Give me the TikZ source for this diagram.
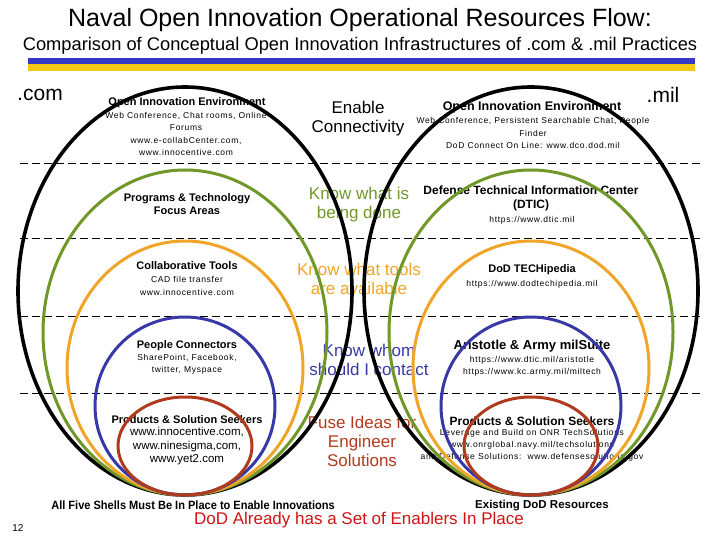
\documentclass[tikz,border=0pt]{standalone}
\usepackage{fontspec}
\setmainfont{Liberation Sans}
\newfontfamily\spacedfont[LetterSpace=8]{Liberation Sans}
\definecolor{shgreen}{RGB}{112,152,40}
\definecolor{shorange}{RGB}{240,165,40}
\definecolor{shblue}{RGB}{56,56,168}
\definecolor{shred}{RGB}{176,58,30}
\definecolor{alertred}{RGB}{204,20,20}
\definecolor{barblue}{RGB}{56,56,200}
\definecolor{baryellow}{RGB}{245,200,20}
\begin{document}
\begin{tikzpicture}[x=1pt,y=-1pt,
  txt/.style={inner sep=0pt, align=center},
  small/.style={txt, font=\spacedfont\fontsize{8.5}{12.2}\selectfont},
  head/.style={txt, font=\bfseries\fontsize{11}{13}\selectfont},
  mid/.style={txt, font=\fontsize{17}{19}\selectfont},
  sep/.style={line width=0.9pt, dash pattern=on 8pt off 4pt},
  shell/.style={line width=3pt},
  outer/.style={line width=3.6pt, black}]
\useasboundingbox (0,0) rectangle (720,540);
% title
\node[txt, font=\fontsize{25}{28}\selectfont] (title) at (360,20) {Naval Open Innovation Operational Resources Flow:};
\node[txt, font=\fontsize{18.3}{20}\selectfont] (subtitle) at (360,46) {Comparison of Conceptual Open Innovation Infrastructures of .com \& .mil Practices};
\fill[barblue] (28,58) rectangle (695,64);
\fill[baryellow] (28,64) rectangle (695,71);
\node[txt, font=\fontsize{21}{24}\selectfont] (com) at (40,95) {.com};
\node[txt, font=\fontsize{21}{24}\selectfont] (mil) at (663,95) {.mil};
% separators
\foreach \yy in {163,238,316,393} \draw[sep] (20,\yy) -- (700,\yy);
% left column
\node[head] (lOIE) at (187,103) {Open Innovation Environment};
\node[small] (lOIEtxt) at (186,134) {Web Conference, Chat rooms, Online\\Forums\\www.e-collabCenter.com,\\www.innocentive.com};
\node[head] (lProg) at (187,204.5) {Programs \& Technology\\Focus Areas};
\node[head] (lCollab) at (187,266) {Collaborative Tools};
\node[small] (lCollabTxt) at (187,286) {CAD file transfer\\www.innocentive.com};
\node[head] (lPeople) at (187,346) {People Connectors};
\node[small] (lPeopleTxt) at (187,364.5) {SharePoint, Facebook,\\twitter, Myspace};
\node[head] (lProd) at (187,420) {Products \& Solution Seekers};
\node[txt, font=\fontsize{11.5}{13.5}\selectfont] (lProdTxt) at (187,446.5) {www.innocentive.com,\\www.ninesigma,com,\\www.yet2.com};
% middle column
\node[mid] (mEnable) at (358,118.5) {Enable\\Connectivity};
\node[mid, text=shgreen] (mDone) at (359,204.5) {Know what is\\being done};
\node[mid, text=shorange] (mTools) at (359,278.5) {Know what tools\\are available};
\node[mid, text=shblue] (mWhom) at (369,359.5) {Know whom\\should I contact};
\node[mid, text=shred] (mFuse) at (362,441) {Fuse Ideas for\\Engineer\\Solutions};
% right column
\node[head, font=\bfseries\fontsize{12.5}{14}\selectfont] (rOIE) at (532,107) {Open Innovation Environment};
\node[small] (rOIEtxt) at (533,133) {Web Conference, Persistent Searchable Chat, People\\Finder\\DoD Connect On Line: www.dco.dod.mil};
\node[head, font=\bfseries\fontsize{12}{14}\selectfont] (rDTIC) at (531,198) {Defense Technical Information Center\\(DTIC)};
\node[small] (rDTICurl) at (532,220) {https://www.dtic.mil};
\node[head] (rTech) at (532,270) {DoD TECHipedia};
\node[small] (rTechUrl) at (532,284) {https://www.dodtechipedia.mil};
\node[head, font=\bfseries\fontsize{13}{15}\selectfont] (rArist) at (532,346) {Aristotle \& Army milSuite};
\node[small] (rAristUrl) at (532,366) {https://www.dtic.mil/aristotle\\https://www.kc.army.mil/miltech};
\node[head, font=\bfseries\fontsize{12}{14}\selectfont] (rProd) at (532,421) {Products \& Solution Seekers};
\node[small] (rProdTxt) at (532,445.5) {Leverage and Build on ONR TechSolutions\\www.onrglobal.navy.mil/techsolutions\\and Defense Solutions:\ \ www.defensesolutions.gov};
% bottom
\node[head, font=\bfseries\fontsize{12}{14}\selectfont, xscale=0.92] (allFive) at (193,505) {All Five Shells Must Be In Place to Enable Innovations};
\node[head, font=\bfseries\fontsize{11.5}{13}\selectfont] (existing) at (542,506) {Existing DoD Resources};
\node[txt, font=\fontsize{17}{19}\selectfont, text=alertred] (enablers) at (359,520) {DoD Already has a Set of Enablers In Place};
\node[txt, font=\fontsize{10}{12}\selectfont] (pagenum) at (18,528) {12};
% shells, left (.com)
\draw[outer] (185,291) ellipse [x radius=167pt, y radius=204pt];
\draw[shell, shgreen] (185,332.5) ellipse [x radius=142pt, y radius=162.5pt];
\draw[shell, shorange] (185,368) ellipse [x radius=118pt, y radius=127pt];
\draw[shell, shblue] (185,406) ellipse [x radius=90pt, y radius=89pt];
\draw[shell, shred] (185,446) ellipse [x radius=67pt, y radius=49pt];
% shells, right (.mil)
\draw[outer] (531,291) ellipse [x radius=167pt, y radius=204pt];
\draw[shell, shgreen] (531,332.5) ellipse [x radius=142pt, y radius=162.5pt];
\draw[shell, shorange] (531,368) ellipse [x radius=118pt, y radius=127pt];
\draw[shell, shblue] (531,406) ellipse [x radius=90pt, y radius=89pt];
\draw[shell, shred] (531,446) ellipse [x radius=67pt, y radius=49pt];
\end{tikzpicture}
\end{document}
